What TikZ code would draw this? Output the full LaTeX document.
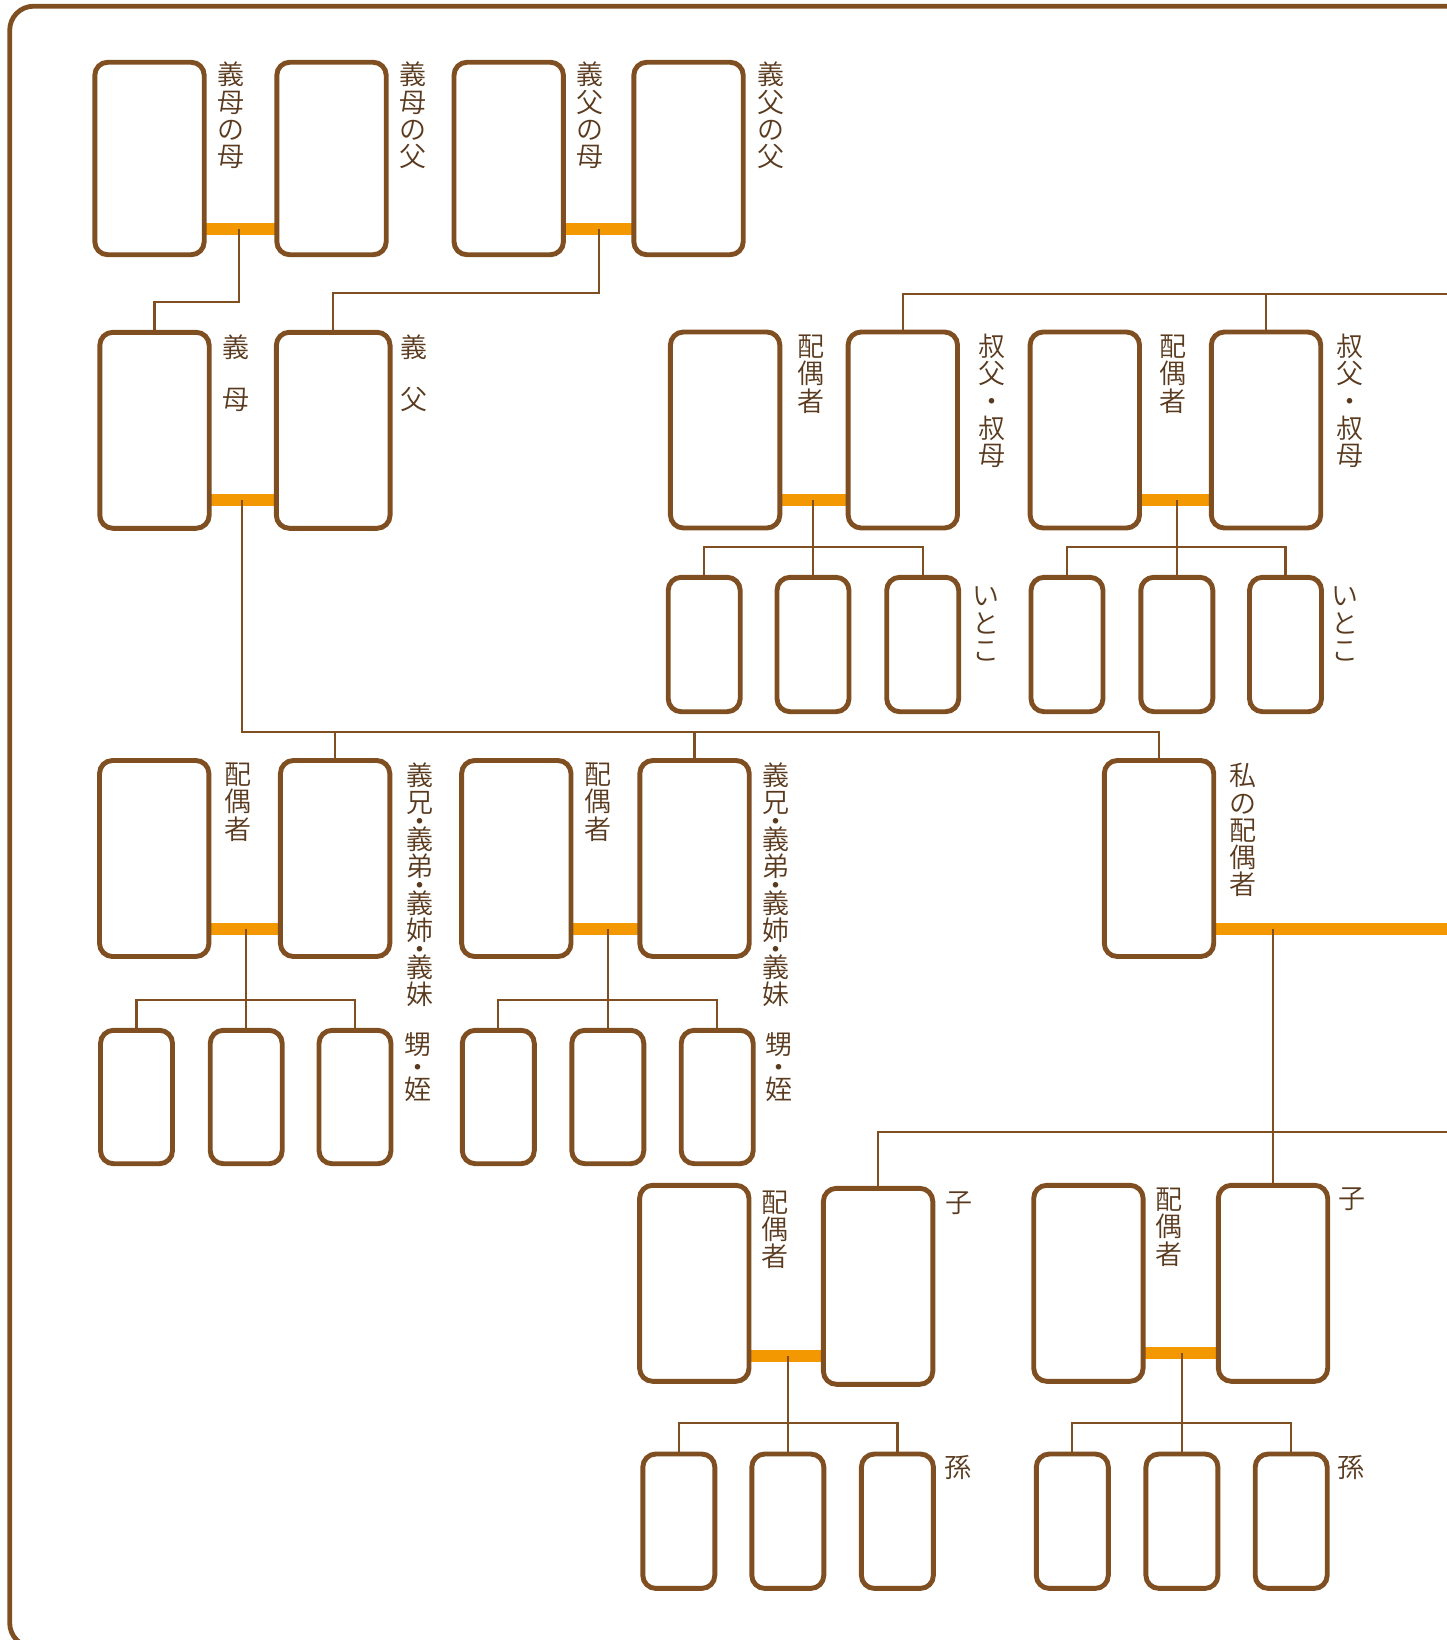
\documentclass[tikz,border=0pt]{standalone}
\usepackage{fontspec}
\IfFontExistsTF{Noto Sans CJK JP DemiLight}
  {\newfontfamily\jp{Noto Sans CJK JP DemiLight}}
  {\IfFontExistsTF{Noto Sans CJK JP Light}
     {\newfontfamily\jp{Noto Sans CJK JP Light}}
     {\newfontfamily\jp{Noto Sans CJK JP}}}
\usetikzlibrary{backgrounds}
\definecolor{brn}{HTML}{7F4F21}
\definecolor{org}{HTML}{F39800}
\definecolor{txtc}{HTML}{5A3A1E}
\begin{document}
\begin{tikzpicture}[x=1pt,y=-1pt,
  pbox/.style={draw=brn, line width=4.9pt, fill=white, rounded corners=13pt,
    minimum width=109.4pt, minimum height=196pt, inner sep=0pt, outer sep=0pt},
  sbox/.style={pbox, minimum width=72pt, minimum height=134.4pt},
  obar/.style={draw=org, line width=12pt},
  ln/.style={draw=brn, line width=2.2pt},
  frm/.style={draw=brn, line width=4.8pt, rounded corners=24pt},
  lbl/.style={anchor=north, inner sep=0pt, outer sep=0pt, align=center, text=txtc,
    font=\jp\fontsize{27}{27.3}\selectfont}]
\useasboundingbox (0,0) rectangle (1446,1640);

% ---------- boxes ----------
% row 1
\node[pbox, minimum height=192.5pt] (A1) at (149.5,158.5) {};
\node[pbox, minimum height=192.5pt] (A2) at (331.5,158.5) {};
\node[pbox, minimum height=192.5pt] (A3) at (508.7,158.5) {};
\node[pbox, minimum height=192.5pt] (A4) at (688.5,158.5) {};
% row 2
\node[pbox] (B1) at (154.5,430.3) {};
\node[pbox, minimum width=113.7pt] (B2) at (333.2,430.3) {};
\node[pbox] (C1) at (725.1,430) {};
\node[pbox] (C2) at (902.8,430) {};
\node[pbox] (C3) at (1084.8,430) {};
\node[pbox] (C4) at (1266,430) {};
% cousins
\node[sbox] (G1) at (704.2,644.5) {};
\node[sbox] (G2) at (813,644.5) {};
\node[sbox] (G3) at (922.7,644.5) {};
\node[sbox] (G4) at (1067,644.5) {};
\node[sbox] (G5) at (1176.8,644.5) {};
\node[sbox] (G6) at (1285.5,644.5) {};
% row 3
\node[pbox] (D1) at (154.2,858.5) {};
\node[pbox] (D2) at (335.1,858.5) {};
\node[pbox] (D3) at (516.3,858.5) {};
\node[pbox] (D4) at (694.5,858.5) {};
\node[pbox] (E) at (1159,858.5) {};
% nephews
\node[sbox, minimum height=133.4pt] (N1) at (136.5,1097) {};
\node[sbox, minimum height=133.4pt] (N2) at (246.2,1097) {};
\node[sbox, minimum height=133.4pt] (N3) at (355,1097) {};
\node[sbox, minimum height=133.4pt] (N4) at (498.3,1097) {};
\node[sbox, minimum height=133.4pt] (N5) at (607.8,1097) {};
\node[sbox, minimum height=133.4pt] (N6) at (717.2,1097) {};
% row 4
\node[pbox] (F1) at (694.3,1283.3) {};
\node[pbox] (F2) at (878.1,1286.3) {};
\node[pbox] (F3) at (1088.4,1283.3) {};
\node[pbox] (F4) at (1273,1283.3) {};
% grandchildren
\node[sbox] (K1) at (678.8,1521.2) {};
\node[sbox] (K2) at (787.8,1521.2) {};
\node[sbox] (K3) at (897.4,1521.2) {};
\node[sbox] (K4) at (1072.3,1521.2) {};
\node[sbox] (K5) at (1181.9,1521.2) {};
\node[sbox] (K6) at (1291.2,1521.2) {};

% ---------- connectors ----------
\begin{scope}[on background layer]
\draw[frm] (9.7,1647) rectangle (1480,6.2);
% row 1
\coordinate (r1) at (0,228.5);
\draw[obar] (A1.east |- r1) -- (A2.west |- r1);
\draw[obar] (A3.east |- r1) -- (A4.west |- r1);
\coordinate (mA) at (239,228.5);
\coordinate (kA) at (239,302);
\draw[ln] (mA) -- (kA) -| (B1.north);
\coordinate (mB) at (599,228.5);
\coordinate (kB) at (599,293.3);
\draw[ln] (mB) -- (kB) -| (B2.north);
% row 2
\coordinate (r2) at (0,500);
\draw[obar] (B1.east |- r2) -- (B2.west |- r2);
\draw[obar] (C1.east |- r2) -- (C2.west |- r2);
\draw[obar] (C3.east |- r2) -- (C4.west |- r2);
\coordinate (mS) at (242,500);
\coordinate (sib) at (0,732);
\draw[ln] (mS) -- (mS |- sib) -- (E.north |- sib) -- (E.north);
\draw[ln] (D2.north) -- (D2.north |- sib);
\draw[ln] (D4.north) -- (D4.north |- sib);
\coordinate (uR) at (1460,294.3);
\draw[ln] (C2.north) |- (uR);
\draw[ln] (C4.north) -- (C4.north |- uR);
\coordinate (cyl) at (0,546.7);
\draw[ln] (G2.north |- r2) -- (G2.north);
\draw[ln] (G1.north) -- (G1.north |- cyl) -- (G3.north |- cyl) -- (G3.north);
\draw[ln] (G5.north |- r2) -- (G5.north);
\draw[ln] (G4.north) -- (G4.north |- cyl) -- (G6.north |- cyl) -- (G6.north);
% row 3
\coordinate (r3) at (0,928.5);
\coordinate (eR) at (1460,928.5);
\draw[obar] (D1.east |- r3) -- (D2.west |- r3);
\draw[obar] (D3.east |- r3) -- (D4.west |- r3);
\draw[obar] (E.east |- r3) -- (eR);
\coordinate (ny) at (0,1000);
\draw[ln] (N2.north |- r3) -- (N2.north);
\draw[ln] (N1.north) -- (N1.north |- ny) -- (N3.north |- ny) -- (N3.north);
\draw[ln] (N5.north |- r3) -- (N5.north);
\draw[ln] (N4.north) -- (N4.north |- ny) -- (N6.north |- ny) -- (N6.north);
\coordinate (kR) at (1460,1132.3);
\draw[ln] (F4.north |- r3) -- (F4.north);
\draw[ln] (F2.north) |- (kR);
% row 4
\coordinate (r4a) at (0,1356);
\coordinate (r4b) at (0,1353);
\draw[obar] (F1.east |- r4a) -- (F2.west |- r4a);
\draw[obar] (F3.east |- r4b) -- (F4.west |- r4b);
\coordinate (gy) at (0,1423.3);
\draw[ln] (K2.north |- r4a) -- (K2.north);
\draw[ln] (K1.north) -- (K1.north |- gy) -- (K3.north |- gy) -- (K3.north);
\draw[ln] (K5.north |- r4b) -- (K5.north);
\draw[ln] (K4.north) -- (K4.north |- gy) -- (K6.north |- gy) -- (K6.north);
\end{scope}

% ---------- labels ----------
\node[lbl] (tA1) at (231,62) {義\\母\\の\\母};
\node[lbl] (tA2) at (412.8,62) {義\\母\\の\\父};
\node[lbl] (tA3) at (589.7,62) {義\\父\\の\\母};
\node[lbl] (tA4) at (770.6,62) {義\\父\\の\\父};
\node[lbl] (tB1) at (236,335) {義\\[24.4pt]母};
\node[lbl] (tB2) at (414.2,335) {義\\[24.4pt]父};
\node[lbl] (tC1) at (811.4,335) {配\\偶\\者};
\node[lbl] (tC2) at (992,334) {叔\\父\\・\\叔\\母};
\node[lbl] (tC3) at (1172.5,335) {配\\偶\\者};
\node[lbl] (tC4) at (1349.5,334) {叔\\父\\・\\叔\\母};
\node[lbl] (tG1) at (986,587) {い\\と\\こ};
\node[lbl] (tG2) at (1344.6,587) {い\\と\\こ};
\node[lbl] (tD1) at (238.4,763) {配\\偶\\者};
\node[lbl] (tD2) at (419.5,762.7) {義\\兄\\[-8.95pt]・\\[-8.95pt]義\\弟\\[-8.95pt]・\\[-8.95pt]義\\姉\\[-8.95pt]・\\[-8.95pt]義\\妹};
\node[lbl] (tD3) at (597.8,763) {配\\偶\\者};
\node[lbl] (tD4) at (775.5,762.7) {義\\兄\\[-8.95pt]・\\[-8.95pt]義\\弟\\[-8.95pt]・\\[-8.95pt]義\\姉\\[-8.95pt]・\\[-8.95pt]義\\妹};
\node[lbl] (tE) at (1243.3,763.3) {私\\の\\配\\偶\\者};
\node[lbl] (tN1) at (417.5,1032.7) {甥\\[-4.65pt]・\\[-4.65pt]姪};
\node[lbl] (tN2) at (778.7,1032.7) {甥\\[-4.65pt]・\\[-4.65pt]姪};
\node[lbl] (tF1) at (775,1190.7) {配\\偶\\者};
\node[lbl] (tF2) at (958.5,1191.7) {子};
\node[lbl] (tF3) at (1168.5,1188) {配\\偶\\者};
\node[lbl] (tF4) at (1351.5,1188) {子};
\node[lbl] (tK1) at (957.6,1455) {孫};
\node[lbl] (tK2) at (1351,1455) {孫};
\end{tikzpicture}
\end{document}
